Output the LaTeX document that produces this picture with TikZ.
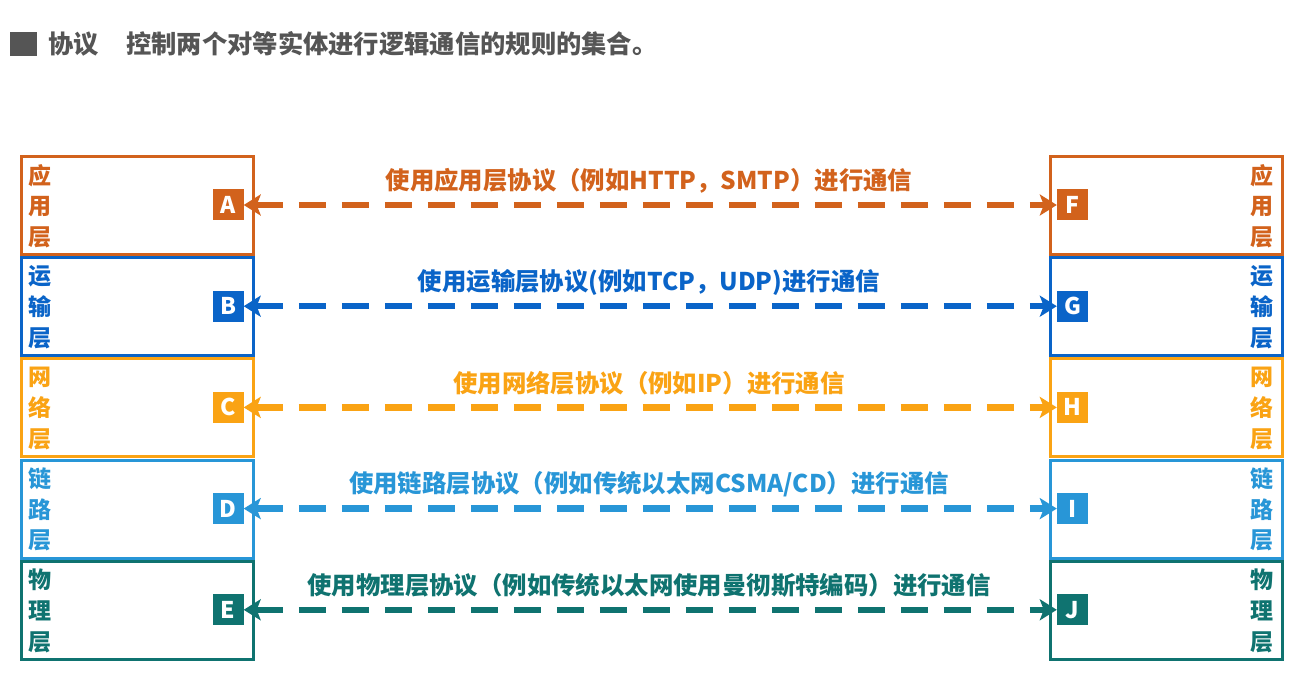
\documentclass[tikz,border=0pt]{standalone}
\usepackage{fontspec}
\setmainfont{Noto Sans CJK SC}
\usetikzlibrary{arrows.meta}
\definecolor{cA}{RGB}{210,98,28}
\definecolor{cB}{RGB}{10,100,200}
\definecolor{cC}{RGB}{250,163,20}
\definecolor{cD}{RGB}{40,150,215}
\definecolor{cE}{RGB}{15,115,112}
\definecolor{tgray}{RGB}{85,85,85}
\tikzset{
  layerbox/.style={draw=#1, line width=3pt, minimum width=232pt, minimum height=98pt, anchor=north west, inner sep=0pt},
  sq/.style={fill=#1, text=white, minimum size=31pt, inner sep=0pt, font=\bfseries\fontsize{23}{23}\selectfont},
  vlab/.style={text=#1, align=center, inner sep=0pt, font=\bfseries\fontsize{23}{30.7}\selectfont},
  plab/.style={text=#1, inner sep=0pt, font=\bfseries\fontsize{24.4}{26}\selectfont},
  conn/.style={draw=#1, line width=6.5pt, dash pattern=on 27pt off 16pt,
    {Stealth[length=17pt,width=21pt,inset=4pt]}-{Stealth[length=17pt,width=21pt,inset=4pt]}},
  ttl/.style={text=tgray, inner sep=0pt, anchor=west, font=\bfseries\fontsize{25.3}{26}\selectfont}
}
\begin{document}
\begin{tikzpicture}[x=1pt,y=-1pt]
\useasboundingbox (0,0) rectangle (1307,692);
\fill[white] (0,0) rectangle (1307,692);
% title
\node[fill=tgray, minimum width=27pt, minimum height=24pt, inner sep=0pt, anchor=north west] (tsq) at (10,32) {};
\node[ttl] (t0) at (48,44) {协议};
\node[ttl] (t1) at (126,44) {控制两个对等实体进行逻辑通信的规则的集合。};
% rows
\foreach \i/\c/\L/\R/\lab/\txt in {
  0/cA/A/F/{应\\用\\层}/{使用应用层协议（例如HTTP，SMTP）进行通信},
  1/cB/B/G/{运\\输\\层}/{使用运输层协议(例如TCP，UDP)进行通信},
  2/cC/C/H/{网\\络\\层}/{使用网络层协议（例如IP）进行通信},
  3/cD/D/I/{链\\路\\层}/{使用链路层协议（例如传统以太网CSMA/CD）进行通信},
  4/cE/E/J/{物\\理\\层}/{使用物理层协议（例如传统以太网使用曼彻斯特编码）进行通信}} {
  \pgfmathsetmacro{\top}{155+101.2*\i}
  \pgfmathsetmacro{\mid}{\top+50}
  \node[layerbox=\c] (lb\L) at (20,\top) {};
  \node[layerbox=\c] (rb\R) at (1048.5,\top) {};
  \node[vlab=\c] (lv\L) at (40,\mid+1) {\lab};
  \node[vlab=\c] (rv\R) at (1262,\mid+1) {\lab};
  \node[sq=\c] (\L) at (228,\mid) {\L};
  \node[sq=\c] (\R) at (1072.5,\mid) {\R};
  \draw[conn=\c] (\L.east) -- (\R.west);
  \node[plab=\c] (p\L) at (649,\mid-24) {\txt};
}
\end{tikzpicture}
\end{document}
